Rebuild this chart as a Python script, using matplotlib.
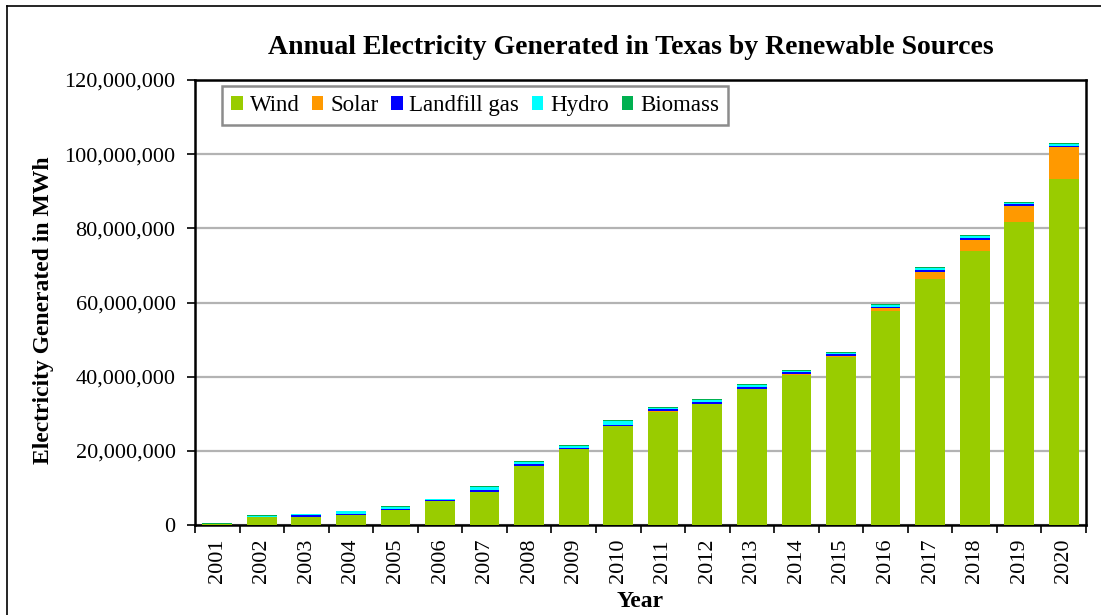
import matplotlib
matplotlib.use("Agg")
import matplotlib.pyplot as plt
import numpy as np
from matplotlib.ticker import FuncFormatter, MultipleLocator

years = ["2001", "2002", "2003", "2004", "2005", "2006", "2007", "2008", "2009", "2010",
         "2011", "2012", "2013", "2014", "2015", "2016", "2017", "2018", "2019", "2020"]
# values in MWh
wind = [0.15e6, 2.2e6, 2.2e6, 2.7e6, 4.1e6, 6.4e6, 9.0e6, 15.9e6, 20.4e6, 26.7e6,
        30.6e6, 32.6e6, 36.7e6, 40.5e6, 45.3e6, 57.6e6, 66.3e6, 74.0e6, 81.8e6, 93.3e6]
solar = [0, 0, 0, 0, 0, 0, 0, 0, 0, 0.02e6,
         0.05e6, 0.1e6, 0.1e6, 0.2e6, 0.3e6, 0.8e6, 2.0e6, 2.9e6, 4.2e6, 8.6e6]
landfill_gas = [0.05e6, 0.05e6, 0.45e6, 0.4e6, 0.25e6, 0.4e6, 0.4e6, 0.5e6, 0.3e6, 0.3e6,
                0.5e6, 0.5e6, 0.5e6, 0.5e6, 0.5e6, 0.5e6, 0.5e6, 0.5e6, 0.5e6, 0.4e6]
hydro = [0.2e6, 0.3e6, 0.2e6, 0.6e6, 0.6e6, 0.1e6, 0.8e6, 0.5e6, 0.6e6, 1.0e6,
         0.3e6, 0.4e6, 0.4e6, 0.4e6, 0.3e6, 0.5e6, 0.5e6, 0.4e6, 0.3e6, 0.4e6]
biomass = [0.1e6, 0.1e6, 0.15e6, 0.2e6, 0.15e6, 0.2e6, 0.2e6, 0.3e6, 0.3e6, 0.2e6,
           0.3e6, 0.3e6, 0.3e6, 0.3e6, 0.3e6, 0.3e6, 0.3e6, 0.3e6, 0.3e6, 0.3e6]

series = [("Wind", wind, "#99CC00"),
          ("Solar", solar, "#FF9900"),
          ("Landfill gas", landfill_gas, "#0000FF"),
          ("Hydro", hydro, "#00FFFF"),
          ("Biomass", biomass, "#00B050")]

plt.rcParams['font.family'] = ['Liberation Serif', 'DejaVu Serif']

fig = plt.figure(figsize=(11.01, 6.15), dpi=100)
W, H = 1101, 615
ax = fig.add_axes([195 / W, 1 - 525 / H, (1086 - 195) / W, (525 - 80) / H])

x = np.arange(len(years))
bottom = np.zeros(len(years))
for name, vals, col in series:
    v = np.array(vals, dtype=float)
    ax.bar(x, v, width=0.67, bottom=bottom, color=col, label=name,
           edgecolor='none', zorder=3)
    bottom += v

ax.set_xlim(-0.5, len(years) - 0.5)
ax.set_ylim(0, 120e6)
ax.yaxis.set_major_locator(MultipleLocator(20e6))
ax.yaxis.set_major_formatter(FuncFormatter(lambda v, p: f"{int(round(v)):,}"))
ax.grid(axis='y', color='#b3b3b3', linewidth=1.6, zorder=0)

ax.set_xticks(x)
ax.set_xticklabels(years, rotation=90, fontsize=16)
ax.set_xticks(np.arange(-0.5, len(years), 1.0), minor=True)
ax.tick_params(axis='x', which='major', length=0, pad=10)
ax.tick_params(axis='x', which='minor', length=6, width=1.2, direction='out')
ax.tick_params(axis='y', labelsize=16, length=6, width=1.2, direction='out', pad=8)

for s in ax.spines.values():
    s.set_linewidth(1.8)
    s.set_color('black')

fig.text(631 / W, 1 - 47 / H, "Annual Electricity Generated in Texas by Renewable Sources",
         fontsize=20, fontweight='bold', ha='center', va='center')
ax.set_ylabel("Electricity Generated in MWh", fontsize=17, fontweight='bold')
ax.yaxis.set_label_coords((54 - 195) / 891, (525 - 310) / 445)
ax.set_xlabel("Year", fontsize=17, fontweight='bold')
ax.xaxis.set_label_coords(0.5, (525 - 591) / 445)

leg = ax.legend(loc='upper left', bbox_to_anchor=((222 - 195) / 891, (525 - 86) / 445),
                ncol=5, fontsize=16.5,
                frameon=True, fancybox=False, handlelength=0.5, handleheight=0.5,
                handletextpad=0.3, columnspacing=0.55, borderpad=0.4, borderaxespad=0)
leg.get_frame().set_edgecolor('#707070')
leg.get_frame().set_linewidth(1.8)

# outer chart border (left and top)
fig.add_artist(plt.Line2D([7 / W, 7 / W], [0, 1 - 6 / H], color='black', linewidth=1.2))
fig.add_artist(plt.Line2D([7 / W, 1], [1 - 6 / H, 1 - 6 / H], color='black', linewidth=1.2))

fig.savefig("out.png", dpi=100)
